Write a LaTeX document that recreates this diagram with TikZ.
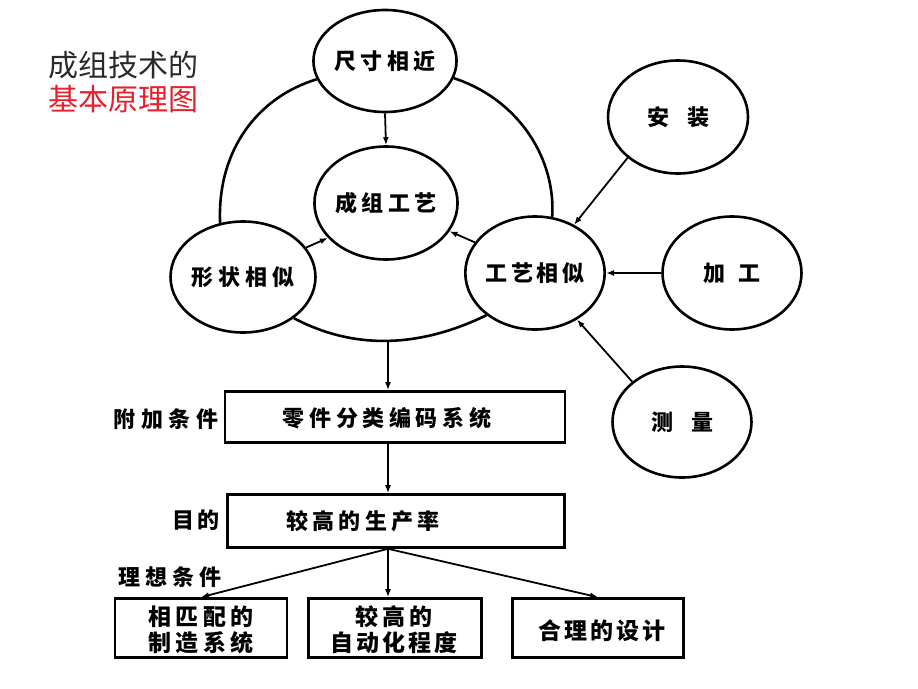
\documentclass[tikz,border=0pt]{standalone}
\usepackage{fontspec}
\setmainfont{Liberation Sans}
\newfontfamily\cjk{Noto Sans CJK SC}
\usetikzlibrary{shapes.geometric,arrows.meta}
\definecolor{titlegray}{HTML}{2A2A2A}
\definecolor{titlered}{HTML}{E5212D}
\begin{document}
\begin{tikzpicture}[x=1pt,y=-1pt,
  ell/.style={ellipse, draw, line width=2.6pt, minimum width=138pt, minimum height=112pt, inner sep=0pt,
    font=\cjk\bfseries\fontsize{22}{22}\selectfont},
  box/.style={draw, line width=2.6pt, inner sep=0pt},
  txt/.style={font=\cjk\bfseries\fontsize{22}{22}\selectfont, inner sep=0pt},
  two/.style={font=\cjk\bfseries\fontsize{23}{26}\selectfont, inner sep=0pt, align=center},
  ttl/.style={font=\cjk\fontsize{30}{30}\selectfont, inner sep=0pt},
  arr/.style={line width=1.8pt, -{Latex[length=8pt,width=6pt]}},
  bigarc/.style={line width=2.6pt}
]
\useasboundingbox (0,0) rectangle (918,688);
\fill[white] (0,0) rectangle (918,688);

% title
\node[ttl, text=titlegray] (t1) at (123,65) {成组技术的};
\node[ttl, text=titlered] (t2) at (123,99) {基本原理图};

% ellipses
\node[ell, minimum width=136pt, minimum height=102pt] (cc) at (385,61) {\addfontfeature{LetterSpace=20}尺寸相近};
\node[ell, minimum height=113pt] (cz) at (386,203) {\addfontfeature{LetterSpace=20}成组工艺};
\node[ell, minimum height=111pt] (xz) at (243,277) {\addfontfeature{LetterSpace=22}形状相似};
\node[ell, minimum height=113pt] (gy) at (535,273) {\addfontfeature{LetterSpace=16}工艺相似};
\node[ell, minimum width=140pt, minimum height=113pt] (az) at (678,117) {安\hspace{18pt}装};
\node[ell, minimum width=139pt, minimum height=113pt] (jg) at (732,273) {加\hspace{13pt}工};
\node[ell, minimum width=139pt, minimum height=111pt] (cl) at (682,422) {测\hspace{18pt}量};

% big enclosing arcs
\draw[bigarc] (xz.113) .. controls (217,150) and (258,97) .. (cc.195);
\draw[bigarc] (cc.346) .. controls (520,100) and (556,160) .. (gy.73);
\draw[bigarc] (xz.321) .. controls (352,349) and (417,349) .. (gy.221);
\coordinate (cb) at (388,341);

% arrows into 成组工艺
\draw[arr] (cc.south) -- (cz.north);
\draw[arr] (xz.25) -- (cz.211);
\draw[arr] (gy.153) -- (cz.336);

% arrows into 工艺相似
\draw[arr] (az.219) -- (gy.51);
\draw[arr] (jg.west) -- (gy.east);
\draw[arr] (cl.141) -- (gy.312);

% boxes
\node[box, minimum width=340pt, minimum height=51pt] (code) at (395,417) {};
\node[txt] (codet) at (387,418) {\addfontfeature{LetterSpace=21}零件分类编码系统};
\node[box, minimum width=337pt, minimum height=53pt] (prod) at (396,521) {};
\node[txt] (prodt) at (363,521) {\addfontfeature{LetterSpace=20}较高的生产率};

\node[box, minimum width=172pt, minimum height=59pt] (b1) at (201,628) {};
\node[two] (b1t) at (201,630) {\addfontfeature{LetterSpace=18}相匹配的\\\addfontfeature{LetterSpace=18}制造系统};
\node[box, minimum width=173pt, minimum height=59pt] (b2) at (395,628) {};
\node[two] (b2t) at (394,630) {\addfontfeature{LetterSpace=18}较高的\\\addfontfeature{LetterSpace=14}自动化程度};
\node[box, minimum width=171pt, minimum height=59pt] (b3) at (598,628) {};
\node[txt, font=\cjk\bfseries\fontsize{23}{23}\selectfont] (b3t) at (602,631) {\addfontfeature{LetterSpace=14}合理的设计};

% side labels
\node[txt] (l1) at (166,419) {\addfontfeature{LetterSpace=26}附加条件};
\node[txt] (l2) at (196,520) {\addfontfeature{LetterSpace=12}目的};
\node[txt] (l3) at (170,577) {\addfontfeature{LetterSpace=24}理想条件};

% vertical flow
\draw[arr] (cb) -- (cb |- code.north);
\draw[arr] (code.south -| cb) -- (prod.north -| cb);
\coordinate (ps) at (prod.south -| cb);
\draw[arr] (ps) -- (b1.north);
\draw[arr] (ps) -- (b2.north -| cb);
\draw[arr] (ps) -- (b3.north);
\end{tikzpicture}
\end{document}
